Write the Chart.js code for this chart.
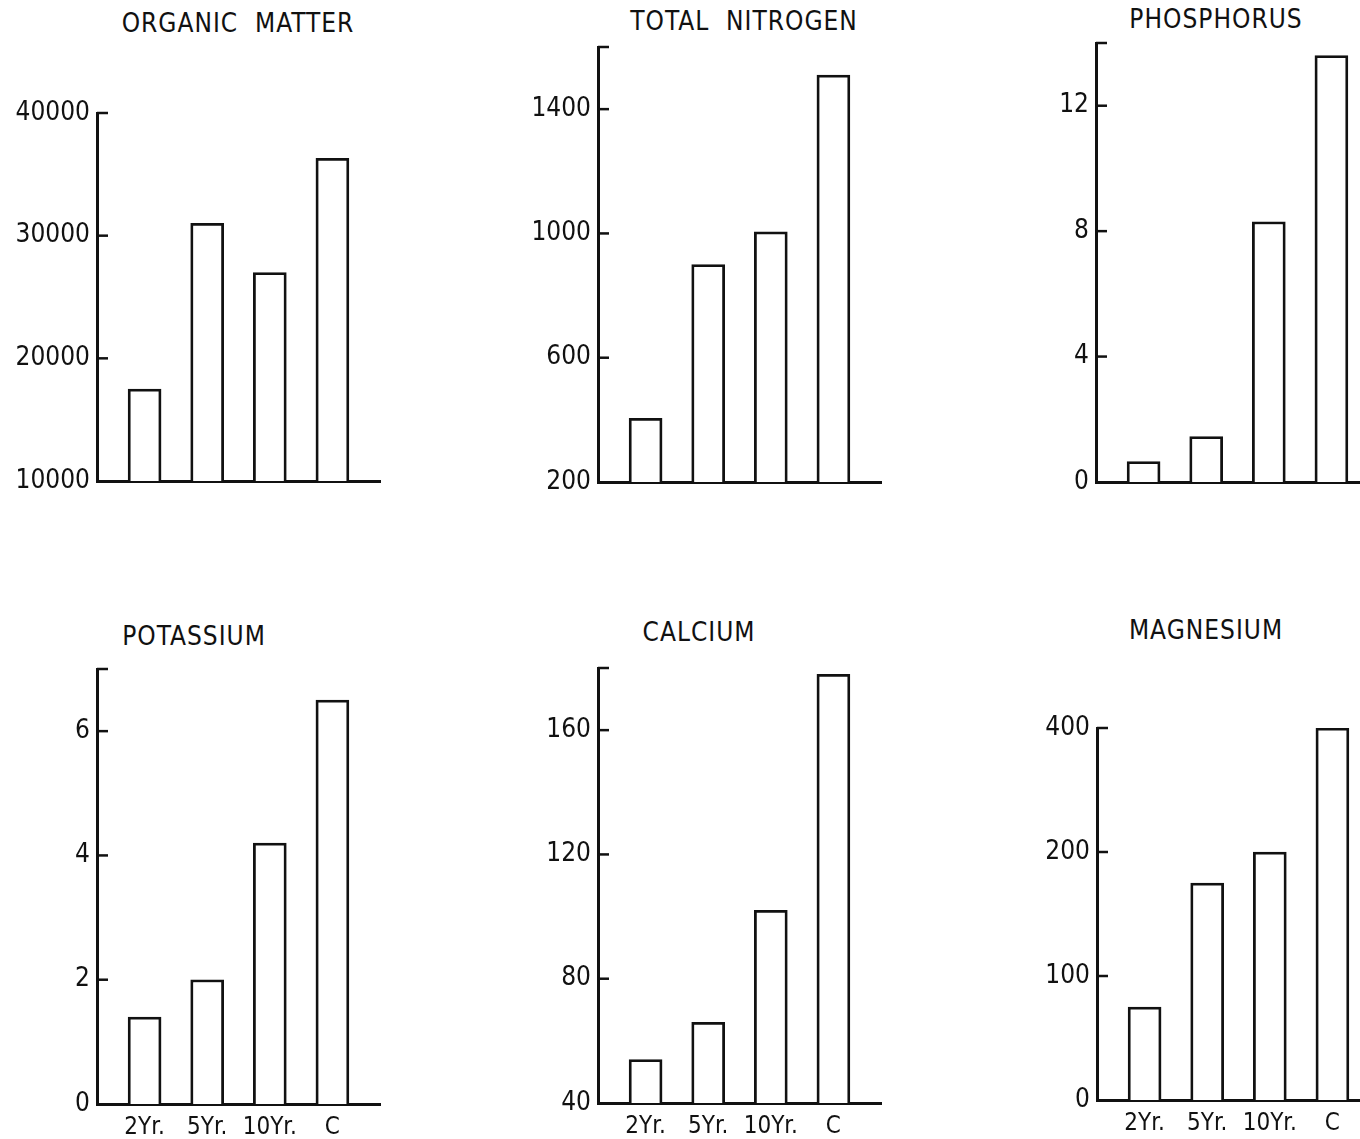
<!DOCTYPE html>
<html>
<head>
<meta charset="utf-8">
<script src="https://cdn.jsdelivr.net/npm/chart.js@4.4.1/dist/chart.umd.min.js"></script>
<style>
  html, body { margin: 0; padding: 0; background: #fff; }
  body { width: 1360px; height: 1139px; position: relative; overflow: hidden; }
  canvas { position: absolute; }
  .ttl { position: absolute; transform: translate(-50%, -50%); white-space: pre;
         font-family: 'DejaVu Sans Condensed', 'DejaVu Sans', sans-serif; font-size: 26px;
         letter-spacing: 1px; color: #111; line-height: 1; }
</style>
</head>
<body>
<script>
// ---- data ----
const categories = ['2Yr.', '5Yr.', '10Yr.', 'C'];

const organicMatter = [17500, 31000, 27000, 36300];
const totalNitrogen = [405, 900, 1005, 1510];
const phosphorus    = [0.65, 1.45, 8.3, 13.6];
const potassium     = [1.4, 2.0, 4.2, 6.5];
const calcium       = [54, 66, 102, 178];
const magnesium     = [75, 175, 200, 400];

const organicMatterTicks = [10000, 20000, 30000, 40000];
const totalNitrogenTicks = [200, 600, 1000, 1400];
const phosphorusTicks    = [0, 4, 8, 12];
const potassiumTicks     = [0, 2, 4, 6];
const calciumTicks       = [40, 80, 120, 160];
const magnesiumTicks     = [0, 100, 200, 400];   // evenly spaced on the original axis

const organicMatterRange = [10000, 40000];
const totalNitrogenRange = [200, 1600];
const phosphorusRange    = [0, 14];
const potassiumRange     = [0, 7];
const calciumRange       = [40, 180];

// ---- layout ----
const Y_AXIS_W = 100, X_AXIS_H = 40, TOP_PAD = 30, AXIS_LEN = 283, RIGHT_PAD = 12;

// piecewise mapping for the magnesium axis (ticks equally spaced)
function magPos(v) {
  const t = magnesiumTicks;
  for (let i = 0; i < t.length - 1; i++) {
    if (v <= t[i + 1]) return i + (v - t[i]) / (t[i + 1] - t[i]);
  }
  const n = t.length - 1;
  return n - 1 + (v - t[n - 1]) / (t[n] - t[n - 1]);
}

const panels = [
  { title: 'ORGANIC  MATTER', tx: 238, ty: 23,  axisX: 97,   top: 113, bottom: 481,
    values: organicMatter, ticks: organicMatterTicks, range: organicMatterRange, xLabels: false },
  { title: 'TOTAL  NITROGEN', tx: 744, ty: 21, axisX: 598,  top: 47,  bottom: 482,
    values: totalNitrogen, ticks: totalNitrogenTicks, range: totalNitrogenRange, xLabels: false },
  { title: 'PHOSPHORUS', tx: 1216, ty: 19,     axisX: 1096, top: 43,  bottom: 482,
    values: phosphorus, ticks: phosphorusTicks, range: phosphorusRange, xLabels: false },
  { title: 'POTASSIUM', tx: 194, ty: 636,      axisX: 97,   top: 669, bottom: 1104,
    values: potassium, ticks: potassiumTicks, range: potassiumRange, xLabels: true },
  { title: 'CALCIUM', tx: 699, ty: 632,        axisX: 598,  top: 668, bottom: 1103,
    values: calcium, ticks: calciumTicks, range: calciumRange, xLabels: true },
  { title: 'MAGNESIUM', tx: 1206, ty: 630,     axisX: 1097, top: 728, bottom: 1100,
    values: magnesium, ticks: magnesiumTicks, piecewise: true, xLabels: true }
];

Chart.defaults.font.family = "'DejaVu Sans Condensed', 'DejaVu Sans', sans-serif";
Chart.defaults.font.size = 25;
Chart.defaults.color = '#111';

const inwardTicks = {
  id: 'inwardTicks',
  afterDatasetsDraw(chart) {
    const ys = chart.scales.y;
    const ctx = chart.ctx;
    const left = chart.chartArea.left;
    const vals = ys.ticks.map(t => t.value).filter(v => v !== ys.min);
    if (!vals.includes(ys.max)) vals.push(ys.max);
    ctx.save();
    ctx.strokeStyle = '#111';
    ctx.lineWidth = 2.5;
    vals.forEach(v => {
      const py = ys.getPixelForValue(v);
      ctx.beginPath();
      ctx.moveTo(left, py);
      ctx.lineTo(left + 11, py);
      ctx.stroke();
    });
    ctx.restore();
  }
};

panels.forEach(p => {
  const t = document.createElement('div');
  t.className = 'ttl';
  t.textContent = p.title;
  t.style.left = p.tx + 'px';
  t.style.top = p.ty + 'px';
  document.body.appendChild(t);

  const cv = document.createElement('canvas');
  const cLeft = p.axisX - Y_AXIS_W;
  const cTop = p.top - TOP_PAD;
  const w = Y_AXIS_W + AXIS_LEN + RIGHT_PAD;
  const h = (p.bottom - cTop) + X_AXIS_H;
  cv.width = w; cv.height = h;
  cv.style.left = cLeft + 'px';
  cv.style.top = cTop + 'px';
  cv.style.width = w + 'px';
  cv.style.height = h + 'px';
  document.body.appendChild(cv);

  const yTickVals = p.piecewise ? p.ticks.map((v, i) => i) : p.ticks;
  const yMin = p.piecewise ? 0 : p.range[0];
  const yMax = p.piecewise ? p.ticks.length - 1 : p.range[1];
  const data = p.values.map((v, i) => ({ x: i + 1, y: p.piecewise ? magPos(v) : v }));

  new Chart(cv, {
    type: 'bar',
    data: {
      datasets: [{
        data: data,
        backgroundColor: '#ffffff',
        borderColor: '#111',
        borderWidth: 2.8,
        barThickness: 33
      }]
    },
    options: {
      responsive: false,
      animation: false,
      devicePixelRatio: 1,
      layout: { padding: { top: TOP_PAD, right: RIGHT_PAD, left: 0, bottom: 0 } },
      plugins: { legend: { display: false }, tooltip: { enabled: false }, title: { display: false } },
      scales: {
        x: {
          type: 'linear',
          offset: false,
          min: 0.24,
          max: 4.76,
          grid: { display: false, drawTicks: false, offset: false },
          border: { display: true, color: '#111', width: 3 },
          afterBuildTicks: s => { s.ticks = categories.map((c, i) => ({ value: i + 1 })); },
          afterFit: s => { s.height = X_AXIS_H; },
          ticks: {
            display: p.xLabels,
            autoSkip: false,
            maxRotation: 0,
            padding: 9,
            font: { size: 24 },
            callback: v => categories[Math.round(v) - 1]
          }
        },
        y: {
          type: 'linear',
          min: yMin,
          max: yMax,
          grid: { display: false, drawTicks: false },
          border: { display: true, color: '#111', width: 3 },
          afterBuildTicks: s => { s.ticks = yTickVals.map(v => ({ value: v })); },
          afterFit: s => { s.width = Y_AXIS_W; },
          ticks: {
            padding: 7,
            font: { size: 26 },
            callback: v => p.piecewise ? String(p.ticks[Math.round(v)]) : String(v)
          }
        }
      }
    },
    plugins: [inwardTicks]
  });
});
</script>
</body>
</html>
